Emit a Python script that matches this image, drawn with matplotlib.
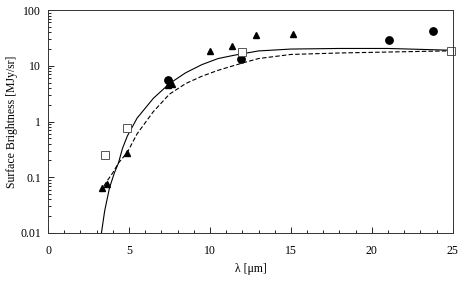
import matplotlib
matplotlib.use("Agg")
import matplotlib.pyplot as plt
from matplotlib.ticker import FixedLocator, LogLocator, NullFormatter, MultipleLocator

plt.rcParams['font.family'] = ['Liberation Serif', 'DejaVu Serif']

# observed points
tri_x = [3.31, 3.62, 4.86, 7.43, 7.63, 10.0, 11.34, 12.84, 15.14]
tri_y = [0.063, 0.075, 0.27, 4.5, 4.8, 18.6, 23, 35.5, 38]
circ_x = [7.43, 11.9, 21.05, 23.75]
circ_y = [5.6, 13, 28.6, 42]
sq_x = [3.52, 4.9, 12.0, 24.9]
sq_y = [0.25, 0.78, 17.5, 18.6]

# model curves
solid_x = [3.3, 3.5, 3.8, 4.1, 4.35, 4.6, 4.9, 5.5, 6.5, 7.5, 8.5, 9.5, 10.5, 11.5, 13, 15, 18, 21, 25]
solid_y = [0.01, 0.025, 0.065, 0.12, 0.18, 0.33, 0.55, 1.15, 2.6, 4.8, 7.5, 10.5, 13.5, 15.5, 18.5, 20, 20.5, 20.5, 19]
dash_x = [3.45, 3.7, 4.0, 4.35, 4.9, 5.5, 6.5, 7.5, 8.5, 9.5, 10.5, 11.9, 13, 15, 18, 21.5, 25]
dash_y = [0.07, 0.09, 0.12, 0.18, 0.28, 0.6, 1.5, 3.1, 4.8, 6.5, 8.3, 11, 13.5, 16, 17, 17.8, 18.6]

fig = plt.figure(figsize=(4.63, 2.81), dpi=100)
ax = fig.add_axes([0.1037, 0.171, 0.8743, 0.793])

ax.plot(solid_x, solid_y, color='k', lw=0.8)
ax.plot(dash_x, dash_y, color='k', lw=0.8, ls=(0, (4, 2)))
ax.plot(tri_x, tri_y, '^', color='k', ms=4, ls='none')
ax.plot(circ_x, circ_y, 'o', color='k', ms=5.3, ls='none')
ax.plot(sq_x, sq_y, 's', mfc='white', mec='#555555', mew=0.7, ms=5.3, ls='none', clip_on=False)

ax.set_yscale('log')
ax.set_xlim(0, 25)
ax.set_ylim(0.01, 100)
ax.xaxis.set_major_locator(MultipleLocator(5))
ax.xaxis.set_minor_locator(MultipleLocator(1))
ax.yaxis.set_major_locator(FixedLocator([0.01, 0.1, 1, 10, 100]))
ax.set_yticklabels(['0.01', '0.1', '1', '10', '100'])
ax.yaxis.set_minor_locator(LogLocator(base=10, subs=range(2, 10)))
ax.yaxis.set_minor_formatter(NullFormatter())
ax.tick_params(which='both', direction='in', top=False, right=False, labelsize=8.5, width=0.6)
ax.tick_params(which='major', length=4)
ax.tick_params(which='minor', length=2.5)
ax.tick_params(axis='x', pad=9)
ax.tick_params(axis='y', pad=5)
for s in ax.spines.values():
    s.set_linewidth(0.7)
    s.set_color('#333333')

ax.set_xlabel('λ [μm]', fontsize=8.5, labelpad=4)
ax.set_ylabel('Surface Brightness [MJy/sr]', fontsize=8.5, labelpad=2)

fig.savefig('out.png', dpi=100)
